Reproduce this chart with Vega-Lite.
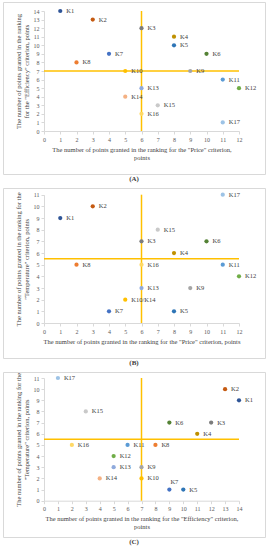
{
  "$schema": "https://vega.github.io/schema/vega-lite/v6.json",
  "padding": {"left": 2, "top": 1, "right": 2, "bottom": 0},
  "background": "white",
  "datasets": {
    "k": [
      {"name": "K1", "price": 1, "efficiency": 14, "temperature": 9},
      {"name": "K2", "price": 3, "efficiency": 13, "temperature": 10},
      {"name": "K3", "price": 6, "efficiency": 12, "temperature": 7},
      {"name": "K4", "price": 8, "efficiency": 11, "temperature": 6},
      {"name": "K5", "price": 8, "efficiency": 10, "temperature": 1},
      {"name": "K6", "price": 10, "efficiency": 9, "temperature": 7},
      {"name": "K7", "price": 4, "efficiency": 9, "temperature": 1},
      {"name": "K8", "price": 2, "efficiency": 8, "temperature": 5},
      {"name": "K9", "price": 9, "efficiency": 7, "temperature": 3},
      {"name": "K10", "price": 5, "efficiency": 7, "temperature": 2},
      {"name": "K11", "price": 11, "efficiency": 6, "temperature": 5},
      {"name": "K12", "price": 12, "efficiency": 5, "temperature": 4},
      {"name": "K13", "price": 6, "efficiency": 5, "temperature": 3},
      {"name": "K14", "price": 5, "efficiency": 4, "temperature": 2},
      {"name": "K15", "price": 7, "efficiency": 3, "temperature": 8},
      {"name": "K16", "price": 6, "efficiency": 2, "temperature": 5},
      {"name": "K17", "price": 11, "efficiency": 1, "temperature": 11}
    ]
  },
  "config": {
    "view": {"stroke": "#d9d9d9", "strokeWidth": 1},
    "font": "Liberation Serif",
    "concat": {"spacing": 4},
    "axis": {
      "grid": false,
      "domainColor": "#d9d9d9",
      "tickColor": "#d9d9d9",
      "tickSize": 3,
      "labelFont": "Liberation Serif",
      "labelFontSize": 6,
      "labelColor": "#595959",
      "labelPadding": 2,
      "labelOverlap": false,
      "labelFlush": false,
      "titleFont": "Liberation Serif",
      "titleFontSize": 6.5,
      "titleFontWeight": "normal",
      "titleColor": "#404040",
      "titlePadding": 4,
      "titleLineHeight": 8
    },
    "title": {"font": "Liberation Serif", "fontSize": 7, "fontWeight": "bold", "color": "#404040", "offset": 1},
    "text": {"font": "Liberation Serif", "fontSize": 6.5, "color": "#404040"}
  },
  "vconcat": [
    {
      "width": 262,
      "height": 172,
      "title": {"text": "(A)", "orient": "bottom"},
      "data": {"name": "k"},
      "encoding": {
        "x": {"field": "price", "type": "quantitative", "scale": {"domain": [0, 12], "range": [41, 236], "nice": false},
              "axis": {"values": [0,1,2,3,4,5,6,7,8,9,10,11,12], "offset": -43},
              "title": ["The number of points granted in the ranking for the \"Price\" criterion,", "points"]},
        "y": {"field": "efficiency", "type": "quantitative", "scale": {"domain": [0, 14], "range": [129, 9], "nice": false},
              "axis": {"values": [0,1,2,3,4,5,6,7,8,9,10,11,12,13,14], "offset": -41},
              "title": ["The number of points granted in the ranking", "for the \"Efficiency\" criterion, points"]}
      },
      "layer": [
        {
          "data": {"values": [{"price": 6, "efficiency": 0, "end": 14}]},
          "mark": {"type": "rule", "color": "#ffc000", "strokeWidth": 1.5},
          "encoding": {"y2": {"field": "end"}}
        },
        {
          "data": {"values": [{"price": 0, "efficiency": 7, "end": 12}]},
          "mark": {"type": "rule", "color": "#ffc000", "strokeWidth": 1.5},
          "encoding": {"x2": {"field": "end"}}
        },
        {
          "mark": {"type": "circle", "size": 18, "opacity": 1},
          "encoding": {
            "color": {"field": "name", "type": "nominal", "legend": null,
              "scale": {"domain": ["K1","K2","K3","K4","K5","K6","K7","K8","K9","K10","K11","K12","K13","K14","K15","K16","K17"],
                        "range": ["#2f5597","#c55a11","#7c7c7c","#bf9000","#2e75b6","#548235","#4472c4","#ed7d31","#a5a5a5","#ffc000","#5b9bd5","#70ad47","#8faadc","#f4b183","#c9c9c9","#ffd966","#9dc3e6"]}}
          }
        },
        {
          "mark": {"type": "text", "align": "left", "baseline": "middle", "dx": 6},
          "encoding": {"text": {"field": "name"}}
        }
      ]
    },
    {
      "width": 262,
      "height": 170,
      "title": {"text": "(B)", "orient": "bottom"},
      "data": {"name": "k"},
      "encoding": {
        "x": {"field": "price", "type": "quantitative", "scale": {"domain": [0, 12], "range": [41, 236], "nice": false},
              "axis": {"values": [0,1,2,3,4,5,6,7,8,9,10,11,12], "offset": -35},
              "title": "The number of points granted in the ranking for the \"Price\" criterion, points"},
        "y": {"field": "temperature", "type": "quantitative", "scale": {"domain": [0, 11], "range": [135, 6.7], "nice": false},
              "axis": {"values": [0,1,2,3,4,5,6,7,8,9,10,11], "offset": -41},
              "title": ["The number of points granted in the ranking for the", "\"Temperature\" criterion, points"]}
      },
      "layer": [
        {
          "data": {"values": [{"price": 6, "temperature": 0, "end": 11}]},
          "mark": {"type": "rule", "color": "#ffc000", "strokeWidth": 1.5},
          "encoding": {"y2": {"field": "end"}}
        },
        {
          "data": {"values": [{"price": 0, "temperature": 5.5, "end": 12}]},
          "mark": {"type": "rule", "color": "#ffc000", "strokeWidth": 1.5},
          "encoding": {"x2": {"field": "end"}}
        },
        {
          "transform": [{"filter": "datum.name != 'K14'"}],
          "mark": {"type": "circle", "size": 18, "opacity": 1},
          "encoding": {
            "color": {"field": "name", "type": "nominal", "legend": null,
              "scale": {"domain": ["K1","K2","K3","K4","K5","K6","K7","K8","K9","K10","K11","K12","K13","K14","K15","K16","K17"],
                        "range": ["#2f5597","#c55a11","#7c7c7c","#bf9000","#2e75b6","#548235","#4472c4","#ed7d31","#a5a5a5","#ffc000","#5b9bd5","#70ad47","#8faadc","#f4b183","#c9c9c9","#ffd966","#9dc3e6"]}}
          }
        },
        {
          "transform": [{"filter": "datum.name != 'K14' && datum.name != 'K10'"}],
          "mark": {"type": "text", "align": "left", "baseline": "middle", "dx": 6},
          "encoding": {"text": {"field": "name"}}
        },
        {
          "transform": [{"filter": "datum.name == 'K10'"}],
          "mark": {"type": "text", "align": "left", "baseline": "middle", "dx": 6},
          "encoding": {"text": {"value": "K10/K14"}}
        }
      ]
    },
    {
      "width": 262,
      "height": 165,
      "title": {"text": "(C)", "orient": "bottom"},
      "data": {"name": "k"},
      "encoding": {
        "x": {"field": "efficiency", "type": "quantitative", "scale": {"domain": [0, 14], "range": [41, 236], "nice": false},
              "axis": {"values": [0,1,2,3,4,5,6,7,8,9,10,11,12,13,14], "offset": -36.3},
              "title": ["The number of points granted in the ranking for the \"Efficiency\" criterion,", "points"]},
        "y": {"field": "temperature", "type": "quantitative", "scale": {"domain": [0, 11], "range": [128.7, 6], "nice": false},
              "axis": {"values": [0,1,2,3,4,5,6,7,8,9,10,11], "offset": -41},
              "title": ["The number of points granted in the ranking for the", "\"Temperature\" criterion, points"]}
      },
      "layer": [
        {
          "data": {"values": [{"efficiency": 7, "temperature": 0, "end": 11}]},
          "mark": {"type": "rule", "color": "#ffc000", "strokeWidth": 1.5},
          "encoding": {"y2": {"field": "end"}}
        },
        {
          "data": {"values": [{"efficiency": 0, "temperature": 5.5, "end": 14}]},
          "mark": {"type": "rule", "color": "#ffc000", "strokeWidth": 1.5},
          "encoding": {"x2": {"field": "end"}}
        },
        {
          "mark": {"type": "circle", "size": 18, "opacity": 1},
          "encoding": {
            "color": {"field": "name", "type": "nominal", "legend": null,
              "scale": {"domain": ["K1","K2","K3","K4","K5","K6","K7","K8","K9","K10","K11","K12","K13","K14","K15","K16","K17"],
                        "range": ["#2f5597","#c55a11","#7c7c7c","#bf9000","#2e75b6","#548235","#4472c4","#ed7d31","#a5a5a5","#ffc000","#5b9bd5","#70ad47","#8faadc","#f4b183","#c9c9c9","#ffd966","#9dc3e6"]}}
          }
        },
        {
          "transform": [{"filter": "datum.name != 'K7'"}],
          "mark": {"type": "text", "align": "left", "baseline": "middle", "dx": 6},
          "encoding": {"text": {"field": "name"}}
        },
        {
          "transform": [{"filter": "datum.name == 'K7'"}],
          "mark": {"type": "text", "align": "center", "baseline": "middle", "dx": 5, "dy": -8},
          "encoding": {"text": {"field": "name"}}
        }
      ]
    }
  ]
}
